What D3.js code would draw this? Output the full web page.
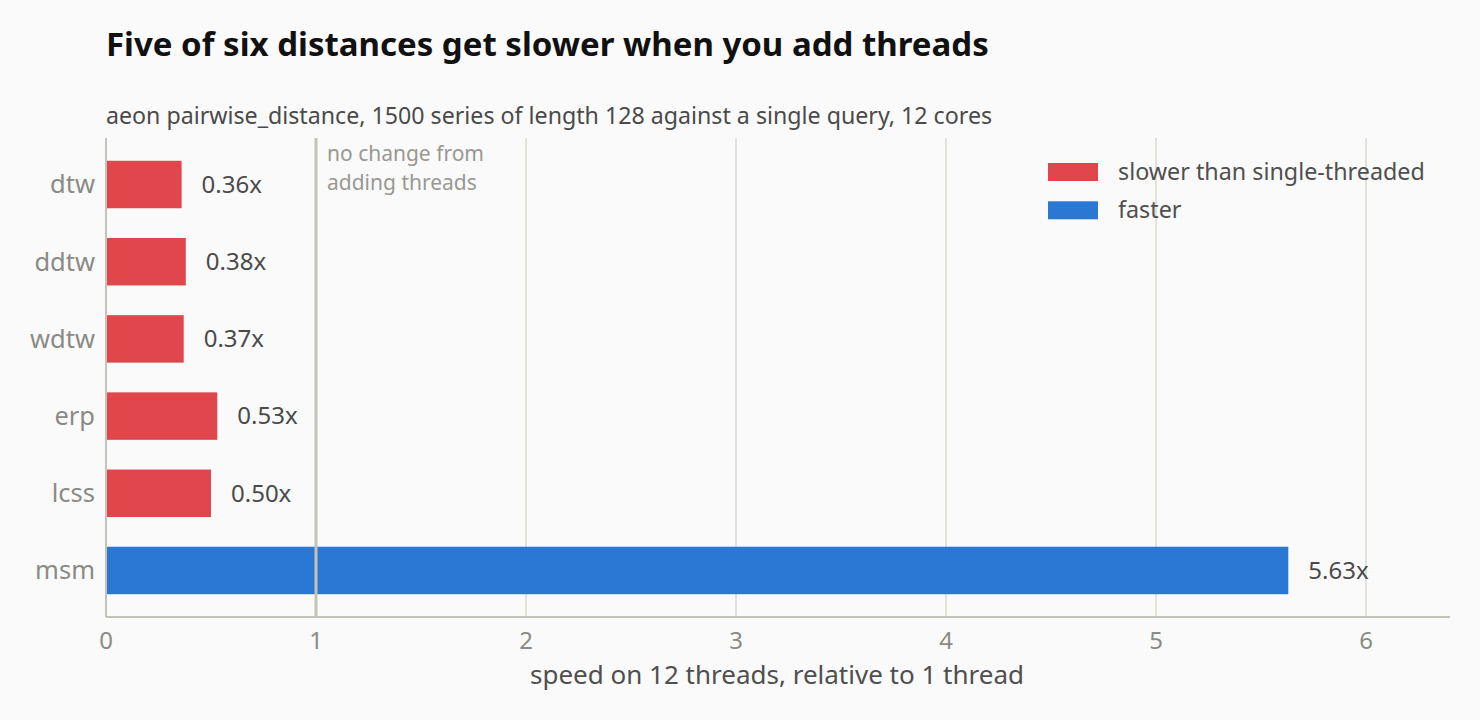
<!DOCTYPE html>
<html lang="en">
<head>
    <meta charset="UTF-8">
    <title>Five of six distances get slower when you add threads</title>
    <style>
        body {
            margin: 0;
            padding: 0;
            background-color: #fafafa;
            font-family: "Noto Sans", "Open Sans", sans-serif;
        }
        svg {
            display: block;
            background-color: #fafafa;
        }
        .grid line {
            stroke: #e2e1da;
            stroke-width: 2px;
        }
        .axis-line {
            stroke: #c4c3b9;
            stroke-width: 2px;
        }
        .tick-label {
            fill: #8a8a86;
            font-size: 24px;
        }
        .cat-label {
            fill: #8a8a86;
            font-size: 25.5px;
        }
        .value-label {
            fill: #4a4a4a;
            font-size: 24px;
        }
    </style>
</head>
<body>
    <svg id="chart" width="1480" height="720"></svg>

    <script src="https://d3js.org/d3.v7.min.js"></script>
    <script>
        // data
        const distances = ['dtw', 'ddtw', 'wdtw', 'erp', 'lcss', 'msm'];
        const speedups = [0.36, 0.38, 0.37, 0.53, 0.50, 5.63];
        const xTicks = [0, 1, 2, 3, 4, 5, 6];
        const legendLabels = ['slower than single-threaded', 'faster'];
        const legendColors = ['#e0474c', '#2a78d4'];

        const svg = d3.select('#chart');
        const margin = { top: 138, right: 30, bottom: 103, left: 106 };
        const width = 1480 - margin.left - margin.right;
        const height = 720 - margin.top - margin.bottom;

        const x = d3.scaleLinear().domain([0, 6.4]).range([0, width]);
        const y = d3.scaleBand()
            .domain(distances)
            .range([0, height])
            .paddingInner(0.385)
            .paddingOuter(0.295);

        const rows = distances.map((d, i) => ({ name: d, value: speedups[i] }));

        // title and subtitle
        svg.append('text')
            .attr('x', margin.left)
            .attr('y', 56)
            .attr('font-size', 33)
            .attr('font-weight', 'bold')
            .attr('fill', '#111')
            .text('Five of six distances get slower when you add threads');

        svg.append('text')
            .attr('x', margin.left)
            .attr('y', 124)
            .attr('font-size', 23.2)
            .attr('fill', '#4a4a4a')
            .text('aeon pairwise_distance, 1500 series of length 128 against a single query, 12 cores');

        const g = svg.append('g')
            .attr('transform', `translate(${margin.left},${margin.top})`);

        // vertical gridlines (skip 0, 1 is drawn as reference line)
        g.append('g')
            .attr('class', 'grid')
            .selectAll('line')
            .data(xTicks.filter(t => t > 1))
            .enter().append('line')
            .attr('x1', d => x(d))
            .attr('x2', d => x(d))
            .attr('y1', 0)
            .attr('y2', height);

        // bars
        g.selectAll('.bar')
            .data(rows)
            .enter().append('rect')
            .attr('class', 'bar')
            .attr('x', x(0))
            .attr('y', d => y(d.name))
            .attr('width', d => x(d.value) - x(0))
            .attr('height', y.bandwidth())
            .attr('fill', d => d.value < 1 ? legendColors[0] : legendColors[1]);

        // reference line at 1
        g.append('line')
            .attr('x1', x(1))
            .attr('x2', x(1))
            .attr('y1', 0)
            .attr('y2', height)
            .attr('stroke', '#c4c3b9')
            .attr('stroke-width', 3);

        // annotation, one text per line
        ['no change from', 'adding threads'].forEach((line, i) => {
            g.append('text')
                .attr('x', x(1) + 11)
                .attr('y', 23 + i * 28.8)
                .attr('font-size', 21)
                .attr('fill', '#999892')
                .text(line);
        });

        // value labels
        g.selectAll('.value-label')
            .data(rows)
            .enter().append('text')
            .attr('class', 'value-label')
            .attr('x', d => x(d.value) + 20)
            .attr('y', d => y(d.name) + y.bandwidth() / 2)
            .attr('dy', '0.35em')
            .text(d => d.value.toFixed(2) + 'x');

        // category labels
        g.selectAll('.cat-label')
            .data(distances)
            .enter().append('text')
            .attr('class', 'cat-label')
            .attr('x', -11)
            .attr('y', d => y(d) + y.bandwidth() / 2)
            .attr('dy', '0.35em')
            .attr('text-anchor', 'end')
            .text(d => d);

        // axis lines
        g.append('line')
            .attr('class', 'axis-line')
            .attr('x1', 0).attr('x2', 0)
            .attr('y1', 0).attr('y2', height);
        g.append('line')
            .attr('class', 'axis-line')
            .attr('x1', 0).attr('x2', width)
            .attr('y1', height).attr('y2', height);

        // x tick labels
        g.selectAll('.tick-label')
            .data(xTicks)
            .enter().append('text')
            .attr('class', 'tick-label')
            .attr('x', d => x(d))
            .attr('y', height + 32)
            .attr('text-anchor', 'middle')
            .text(d => d);

        g.append('text')
            .attr('x', 671)
            .attr('y', height + 67)
            .attr('text-anchor', 'middle')
            .attr('font-size', 26)
            .attr('fill', '#4f4f4f')
            .text('speed on 12 threads, relative to 1 thread');

        // legend
        const legend = svg.append('g')
            .attr('transform', 'translate(1048,163)');
        legendLabels.forEach((label, i) => {
            legend.append('rect')
                .attr('x', 0)
                .attr('y', i * 38.3)
                .attr('width', 50)
                .attr('height', 18)
                .attr('fill', legendColors[i]);
            legend.append('text')
                .attr('x', 70)
                .attr('y', i * 38.3 + 9)
                .attr('dy', '0.35em')
                .attr('font-size', 23.3)
                .attr('fill', '#4f4f4f')
                .text(label);
        });
    </script>
</body>
</html>
